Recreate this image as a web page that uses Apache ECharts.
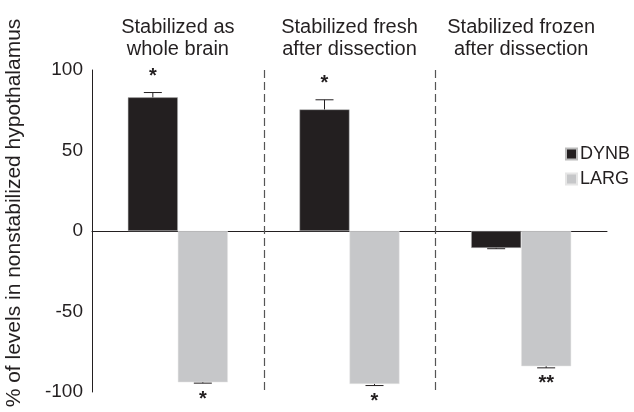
<!DOCTYPE html>
<html>
<head>
<meta charset="utf-8">
<script src="https://cdn.jsdelivr.net/npm/echarts@6/dist/echarts.min.js"></script>
<style>
  html, body { margin: 0; padding: 0; background: #fff; }
  #chart { width: 634px; height: 412px; }
</style>
</head>
<body>
<div id="chart"></div>
<script>
// data
var groups = ['Stabilized as\nwhole brain', 'Stabilized fresh\nafter dissection', 'Stabilized frozen\nafter dissection'];
var dynb = [83, 75.5, -10.5];
var dynbErr = [3, 6, 0.5];
var dynbStars = ['*', '*', ''];
var larg = [-94, -95, -84];
var largErr = [0.5, 1, 1];
var largStars = ['*', '*', '**'];
var separators = [1, 2];
var yTicks = [-100, -50, 0, 50, 100];

var ink = '#231f20';
var FONT = '"Liberation Sans", Arial, sans-serif';

function errSeries(name, vals, errs, stars, side) {
    return {
        type: 'custom',
        name: name + '-err',
        silent: true,
        z: 5,
        data: vals.map(function (v, i) { return [i, v, errs[i]]; }),
        renderItem: function (params, api) {
            var i = api.value(0), v = api.value(1), e = api.value(2);
            var star = stars[i];
            var x = api.coord([i, 0])[0] + side * 25;
            var end = v >= 0 ? v + e : v - e;
            var p0 = api.coord([i, v]);
            var p1 = api.coord([i, end]);
            var dir = v >= 0 ? -1 : 1;
            var kids = [
                {type: 'line', shape: {x1: x, y1: p0[1], x2: x, y2: p1[1]}, style: {stroke: ink, lineWidth: 1}},
                {type: 'line', shape: {x1: x - 9, y1: p1[1], x2: x + 9, y2: p1[1]}, style: {stroke: ink, lineWidth: 1}}
            ];
            if (star) {
                kids.push({
                    type: 'text',
                    style: {
                        text: star, x: x, y: p1[1] + dir * 16,
                        align: 'center', verticalAlign: 'middle',
                        font: 'bold 20px ' + FONT, fill: ink
                    }
                });
            }
            return {type: 'group', children: kids};
        }
    };
}

var option = {
    backgroundColor: '#fff',
    animation: false,
    textStyle: {fontFamily: FONT, color: ink},
    grid: {left: 92, right: 27, top: 70, bottom: 20},
    legend: {
        orient: 'vertical',
        left: 565, top: 145,
        padding: 0,
        itemWidth: 11, itemHeight: 11, itemGap: 7,
        icon: 'rect',
        textStyle: {fontSize: 18, color: ink, fontFamily: FONT, padding: [0, 0, 0, -2]},
        data: ['DYNB', 'LARG']
    },
    graphic: [{
        type: 'text',
        x: 14, y: 213,
        rotation: Math.PI / 2,
        style: {
            text: '% of levels in nonstabilized hypothalamus',
            font: '21px ' + FONT, fill: ink,
            align: 'center', verticalAlign: 'middle'
        }
    }],
    xAxis: [{
        type: 'category',
        data: groups,
        axisLine: {onZero: true, lineStyle: {color: ink, width: 1}},
        axisTick: {show: false},
        axisLabel: {show: false}
    }, {
        type: 'category',
        position: 'top',
        data: groups,
        axisLine: {show: false},
        axisTick: {show: false},
        axisLabel: {interval: 0, hideOverlap: false, margin: 10, fontSize: 20, lineHeight: 22, color: ink, fontFamily: FONT}
    }],
    yAxis: {
        type: 'value',
        min: -100, max: 100, interval: 50,
        axisLine: {show: true, lineStyle: {color: ink, width: 1}},
        axisTick: {show: false},
        splitLine: {show: false},
        axisLabel: {fontSize: 19, color: ink, margin: 9, fontFamily: FONT,
            formatter: function (v) { return yTicks.indexOf(v) >= 0 ? String(v) : ''; }}
    },
    series: [{
        name: 'DYNB',
        type: 'bar',
        barWidth: 50,
        barGap: '0%',
        itemStyle: {color: ink, borderColor: '#bbb', borderWidth: 0.5},
        data: dynb
    }, {
        name: 'LARG',
        type: 'bar',
        barWidth: 50,
        barGap: '0%',
        itemStyle: {color: '#c6c7c9', borderColor: '#e6e6e6', borderWidth: 0.5},
        data: larg
    },
    errSeries('DYNB', dynb, dynbErr, dynbStars, -1),
    errSeries('LARG', larg, largErr, largStars, 1),
    {
        type: 'custom',
        silent: true,
        data: separators.map(function (s) { return [s, 0]; }),
        encode: {x: 0, y: 1},
        renderItem: function (params, api) {
            var i = api.value(0);
            var x = Math.round(api.coord([i, 0])[0] - api.size([1, 0])[0] / 2) + 0.5;
            var top = api.coord([i, 100])[1];
            var bot = api.coord([i, -100])[1];
            return {
                type: 'line',
                shape: {x1: x, y1: top, x2: x, y2: bot},
                style: {stroke: '#555', lineWidth: 1.2, lineDash: [8, 4]}
            };
        }
    }]
};

var chart = echarts.init(document.getElementById('chart'));
chart.setOption(option);
</script>
</body>
</html>
